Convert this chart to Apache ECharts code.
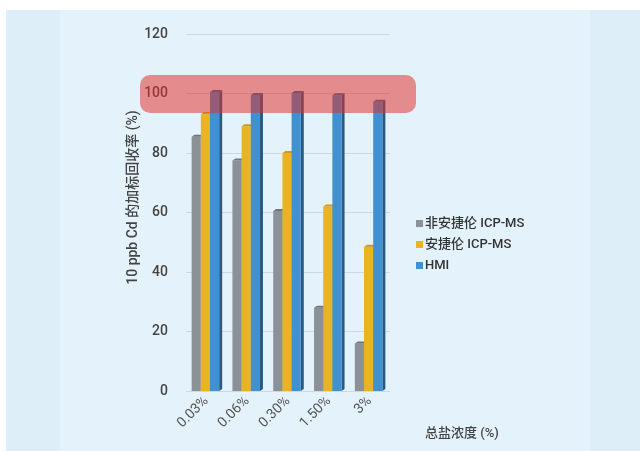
<!DOCTYPE html>
<html><head><meta charset="utf-8">
<script src="https://cdn.jsdelivr.net/npm/echarts@6/dist/echarts.min.js"></script>
<style>html,body{margin:0;padding:0;background:#fff}#c{width:640px;height:451px}</style>
</head><body><div id="c"></div>
<script>
const categories = ['0.03%', '0.06%', '0.30%', '1.50%', '3%'];
const seriesNames = ['非安捷伦 ICP-MS', '安捷伦 ICP-MS', 'HMI'];
const nonAgilent = [85.5, 77.5, 60.5, 28, 16];
const agilent = [93, 89, 80, 62, 48.5];
const hmi = [100.5, 99.5, 100.2, 99.4, 97.2];
const yTicks = [0, 20, 40, 60, 80, 100, 120];

const colors = ['#8b9297', '#e8b422', '#4190cf'];
const sideColors = ['#5f666b', '#b58a12', '#285a84'];
const topColors = ['#6f767b', '#c99a14', '#33699a'];
const allData = [nonAgilent, agilent, hmi];

function makeRender(si) {
  return function (params, api) {
    const ci = api.value(0);
    const v = api.value(1);
    const band = api.size([1, 0])[0];
    const w = band * 0.225;
    const center = api.coord([ci, 0])[0];
    const x0 = center - 1.5 * w + si * w - 1;
    const yTop = api.coord([ci, v])[1];
    const yBot = api.coord([ci, 0])[1];
    const d = 3, dy = 2;
    return {
      type: 'group',
      children: [
        { type: 'polygon', shape: { points: [[x0 + w, yTop], [x0 + w + d, yTop - dy], [x0 + w + d, yBot - dy], [x0 + w, yBot]] }, style: { fill: sideColors[si] } },
        { type: 'rect', shape: { x: x0, y: yTop, width: w, height: yBot - yTop }, style: { fill: colors[si] } },
        { type: 'polygon', shape: { points: [[x0, yTop], [x0 + d, yTop - dy], [x0 + w + d, yTop - dy], [x0 + w, yTop]] }, style: { fill: topColors[si] } }
      ]
    };
  };
}

const chart = echarts.init(document.getElementById('c'), null, { renderer: 'canvas' });
chart.setOption({
  backgroundColor: '#ffffff',
  animation: false,
  color: colors,
  textStyle: { fontFamily: 'Roboto, "Noto Sans CJK SC", sans-serif' },
  graphic: [
    { type: 'rect', z: -10, silent: true, shape: { x: 6, y: 10, width: 634, height: 441 }, style: { fill: '#ddeef8' } },
    { type: 'rect', z: -9, silent: true, shape: { x: 60, y: 10, width: 530, height: 441 }, style: { fill: '#e4f3fb' } },
    { type: 'rect', z: 100, silent: true, shape: { x: 140, y: 75, width: 276, height: 38, r: 10 }, style: { fill: 'rgba(226,44,40,0.52)' } }
  ],
  legend: {
    orient: 'vertical', left: 411, top: 212,
    icon: 'rect', itemWidth: 7, itemHeight: 7, itemGap: 8,
    textStyle: { color: '#333', fontSize: 13, fontWeight: 500, padding: [0, 0, 0, -3] },
    data: seriesNames
  },
  grid: { left: 186, right: 250, top: 34, bottom: 60 },
  xAxis: {
    type: 'category', data: categories,
    axisLine: { show: false }, axisTick: { show: false },
    axisLabel: { rotate: 45, color: '#555', fontSize: 14, margin: 8 },
    name: '总盐浓度 (%)', nameLocation: 'end', nameGap: 35,
    nameTextStyle: { color: '#444', fontSize: 13, fontWeight: 500, align: 'left', verticalAlign: 'top', padding: [36, 0, 0, 0] }
  },
  yAxis: {
    type: 'value', min: yTicks[0], max: yTicks[yTicks.length - 1], interval: 20,
    axisLine: { show: false }, axisTick: { show: false },
    axisLabel: { color: '#444', fontSize: 14, fontWeight: 500, margin: 18 },
    splitLine: { lineStyle: { color: '#cfd8dc', width: 1.2 } },
    name: '10 ppb Cd 的加标回收率 (%)', nameLocation: 'middle', nameRotate: 90, nameGap: 46,
    nameTextStyle: { color: '#444', fontSize: 14, fontWeight: 500, padding: [0, 0, 0, 30] }
  },
  series: allData.map((arr, si) => ({
    type: 'custom', name: seriesNames[si],
    itemStyle: { color: colors[si] },
    renderItem: makeRender(si),
    encode: { x: 0, y: 1 },
    data: arr.map((v, i) => [i, v])
  }))
});
</script></body></html>
